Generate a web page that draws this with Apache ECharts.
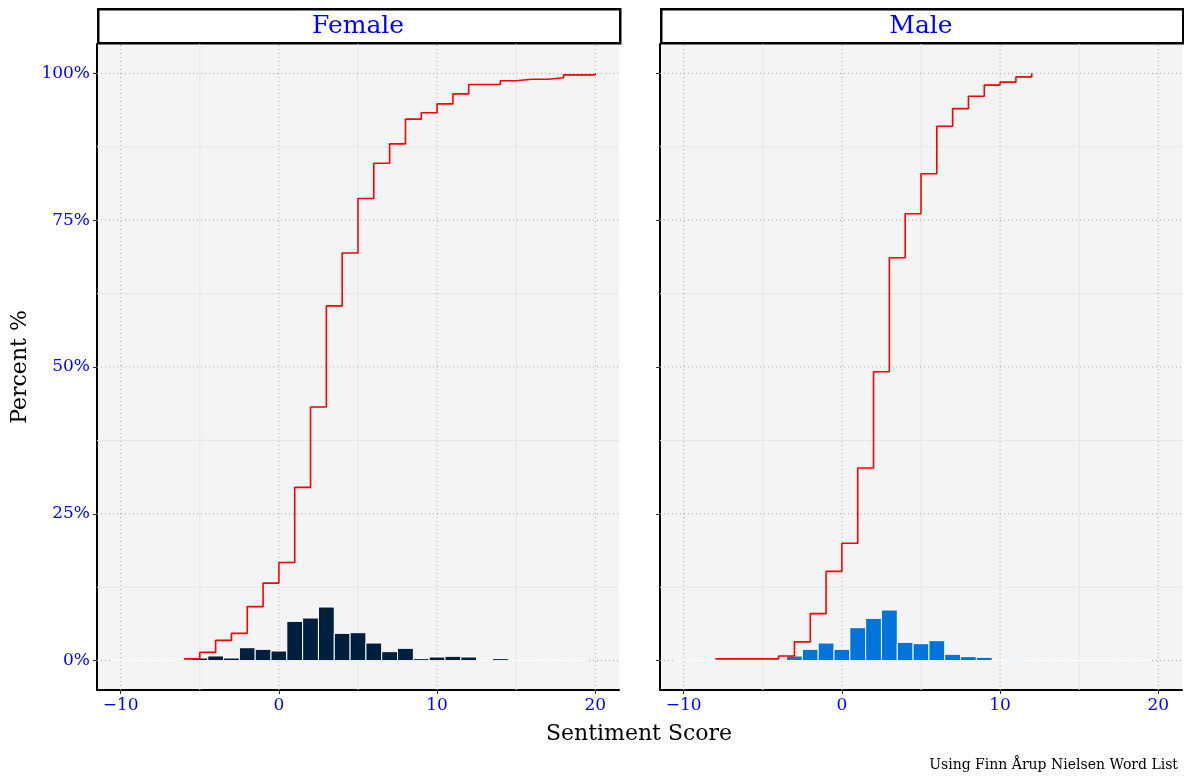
<!DOCTYPE html>
<html>
<head>
<meta charset="utf-8">
<script src="https://cdn.jsdelivr.net/npm/echarts@6/dist/echarts.min.js"></script>
<style>
  html, body { margin: 0; padding: 0; background: #ffffff; }
  #chart { width: 1184px; height: 778px; }
</style>
</head>
<body>
<div id="chart"></div>
<script>
// Sentiment score bins (bin width 1, centred on integers)
const scoreBins = [-10, -9, -8, -7, -6, -5, -4, -3, -2, -1, 0, 1, 2, 3, 4, 5, 6, 7, 8, 9, 10, 11, 12, 13, 14, 15, 16, 17, 18, 19];

// Share of documents per score bin (%)
const femalePct = [0, 0, 0, 0, 0.2, 0.45, 0.8, 0.45, 2.2, 1.93, 1.64, 6.69, 7.26, 9.13, 4.65, 4.76, 3.0, 1.53, 2.1, 0.34, 0.62, 0.74, 0.62, 0, 0.34, 0, 0, 0.05, 0, 0];
const malePct   = [0, 0, 0.1, 0, 0, 0, 0.1, 0.8, 1.93, 3.0, 1.93, 5.61, 7.2, 8.62, 3.12, 2.89, 3.4, 1.08, 0.68, 0.57, 0, 0.17, 0, 0, 0, 0, 0, 0, 0, 0];

// Empirical cumulative distribution (%)
const femaleEcdfScore = [-6, -5, -4, -3, -2, -1, 0, 1, 2, 3, 4, 5, 6, 7, 8, 9, 10, 11, 12, 13, 14, 15, 16, 17, 18, 19, 20];
const femaleEcdfPct   = [0.3, 1.4, 3.45, 4.65, 9.2, 13.2, 16.7, 29.5, 43.2, 60.4, 69.4, 78.7, 84.7, 88.0, 92.2, 93.3, 94.8, 96.5, 98.1, 98.1, 98.75, 99.0, 99.0, 99.25, 99.75, 99.75, 100];
const maleEcdfScore   = [-8, -7, -6, -5, -4, -3, -2, -1, 0, 1, 2, 3, 4, 5, 6, 7, 8, 9, 10, 11, 12];
const maleEcdfPct     = [0.3, 0.3, 0.3, 0.3, 0.8, 3.2, 8.0, 15.2, 20.0, 32.8, 49.2, 68.6, 76.1, 82.9, 91.0, 94.0, 96.1, 98.0, 98.5, 99.4, 100];

// Axis ticks and grid lines
const xTicks = [-10, 0, 10, 20];
const xMinorTicks = [-5, 5, 15];
const yTicks = [0, 25, 50, 75, 100];
const yMinorTicks = [12.5, 37.5, 62.5, 87.5];

const facetNames = ['Female', 'Male'];
const facetColors = ['#001F3F', '#0074D9'];

const X_MIN = -11.5, X_MAX = 21.5, Y_MIN = -5, Y_MAX = 105;
const SERIF = '"DejaVu Serif", "Liberation Serif", serif';
const BLUE = '#0000FF';

const panelLeft = [97, 660];
const panelWidth = 522;
const panelTop = 44;
const panelHeight = 646;

const chart = echarts.init(document.getElementById('chart'), null, { renderer: 'canvas' });

function gridLineData() {
  const d = [];
  xMinorTicks.forEach(v => d.push([0, v, 0]));
  yMinorTicks.forEach(v => d.push([1, v, 0]));
  xTicks.forEach(v => d.push([0, v, 1]));
  yTicks.forEach(v => d.push([1, v, 1]));
  return d;
}

function renderGridLine(params, api) {
  const o = api.value(0), v = api.value(1), major = api.value(2);
  let p1, p2;
  if (o === 0) { p1 = api.coord([v, Y_MIN]); p2 = api.coord([v, Y_MAX]); }
  else { p1 = api.coord([X_MIN, v]); p2 = api.coord([X_MAX, v]); }
  return {
    type: 'line',
    shape: { x1: p1[0], y1: p1[1], x2: p2[0], y2: p2[1] },
    style: major
      ? { stroke: '#a8a8a8', lineWidth: 1, lineDash: [1, 3] }
      : { stroke: '#e6e6e6', lineWidth: 1 }
  };
}

function makeBarRenderer(color) {
  return function (params, api) {
    const k = api.value(0), v = api.value(1);
    const a = api.coord([k - 0.5, v]);
    const b = api.coord([k + 0.5, 0]);
    return {
      type: 'rect',
      shape: { x: a[0], y: a[1], width: b[0] - a[0], height: b[1] - a[1] },
      style: { fill: color, stroke: '#ffffff', lineWidth: 1 }
    };
  };
}

const grids = [], xAxes = [], yAxes = [], series = [];
const barSets = [femalePct, malePct];
const ecdfSets = [[femaleEcdfScore, femaleEcdfPct], [maleEcdfScore, maleEcdfPct]];

for (let i = 0; i < 2; i++) {
  grids.push({
    left: panelLeft[i], top: panelTop, width: panelWidth, height: panelHeight,
    show: true, backgroundColor: '#F4F4F4', borderWidth: 0
  });
  xAxes.push({
    type: 'value', gridIndex: i, min: X_MIN, max: X_MAX,
    axisLine: { show: true, onZero: false, lineStyle: { color: '#000', width: 2 } },
    axisTick: { show: true, customValues: xTicks, length: 4, lineStyle: { color: '#333', width: 1 } },
    axisLabel: {
      show: true, customValues: xTicks, margin: 7,
      color: BLUE, fontFamily: SERIF, fontSize: 17,
      formatter: v => String(v).replace('-', '\u2212')
    },
    splitLine: { show: false }, minorSplitLine: { show: false }
  });
  yAxes.push({
    type: 'value', gridIndex: i, min: Y_MIN, max: Y_MAX,
    axisLine: { show: true, onZero: false, lineStyle: { color: '#000', width: 2 } },
    axisTick: { show: true, customValues: yTicks, length: 4, lineStyle: { color: '#333', width: 1 } },
    axisLabel: {
      show: i === 0, customValues: yTicks, margin: 7,
      color: BLUE, fontFamily: SERIF, fontSize: 17,
      formatter: v => v + '%'
    },
    splitLine: { show: false }
  });
  series.push({
    type: 'custom', xAxisIndex: i, yAxisIndex: i, z: 1, silent: true,
    renderItem: renderGridLine, data: gridLineData()
  });
  series.push({
    type: 'custom', name: facetNames[i], xAxisIndex: i, yAxisIndex: i, z: 2,
    renderItem: makeBarRenderer(facetColors[i]),
    data: scoreBins.map((s, j) => [s, barSets[i][j]])
  });
  series.push({
    type: 'line', xAxisIndex: i, yAxisIndex: i, z: 3, step: 'end',
    showSymbol: false, symbol: 'none',
    lineStyle: { color: '#FF0000', width: 1.6 },
    data: ecdfSets[i][0].map((s, j) => [s, ecdfSets[i][1][j]])
  });
}

const graphics = [];
for (let i = 0; i < 2; i++) {
  graphics.push({
    type: 'rect', left: panelLeft[i], top: 8,
    shape: { width: panelWidth, height: 34 },
    style: { fill: '#ffffff', stroke: '#000000', lineWidth: 2.5 }
  });
  graphics.push({
    type: 'text', x: panelLeft[i] + panelWidth / 2, y: 26,
    style: {
      text: facetNames[i], fill: BLUE, font: '25px ' + SERIF,
      align: 'center', verticalAlign: 'middle'
    }
  });
}
graphics.push({
  type: 'text', x: 639, y: 734,
  style: { text: 'Sentiment Score', fill: '#000', font: '22px ' + SERIF, align: 'center', verticalAlign: 'middle' }
});
graphics.push({
  type: 'text', x: 20, y: 367, rotation: Math.PI / 2,
  style: { text: 'Percent %', fill: '#000', font: '22px ' + SERIF, align: 'center', verticalAlign: 'middle' }
});
graphics.push({
  type: 'text', x: 1178, y: 765,
  style: { text: 'Using Finn \u00C5rup Nielsen Word List', fill: '#000', font: '14px ' + SERIF, align: 'right', verticalAlign: 'middle' }
});

chart.setOption({
  animation: false,
  backgroundColor: '#ffffff',
  grid: grids,
  xAxis: xAxes,
  yAxis: yAxes,
  series: series,
  graphic: graphics
});
</script>
</body>
</html>
